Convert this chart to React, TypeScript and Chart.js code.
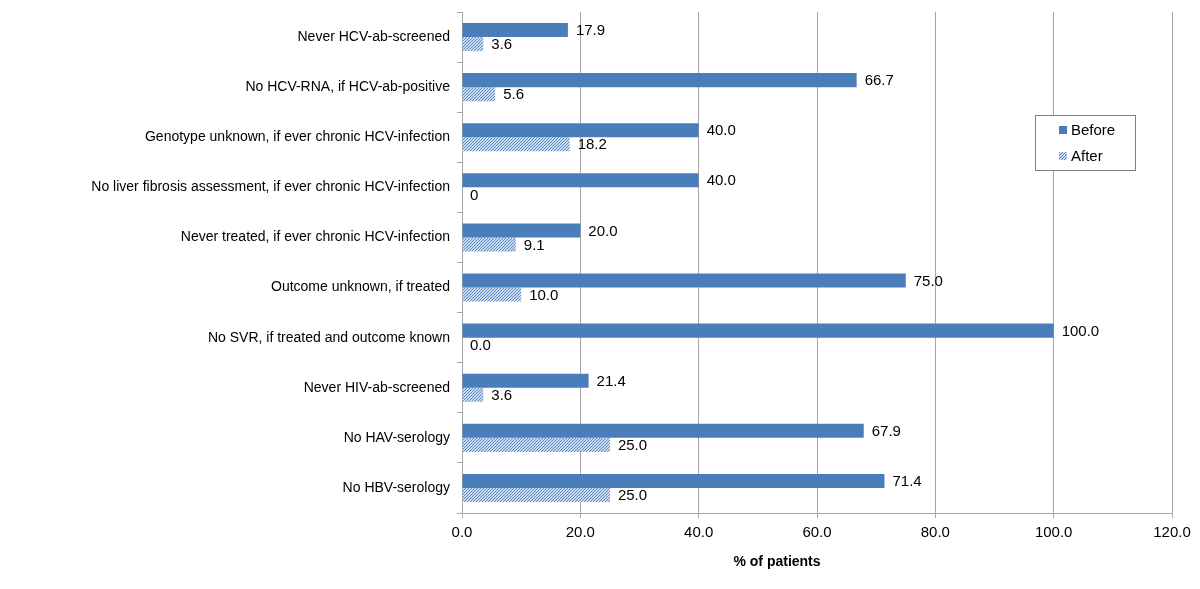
import React, { useEffect, useRef } from "react";
import { Chart, registerables } from "chart.js";

Chart.register(...registerables);

const categories = [
  "Never HCV-ab-screened",
  "No HCV-RNA, if HCV-ab-positive",
  "Genotype unknown, if ever chronic HCV-infection",
  "No liver fibrosis assessment, if ever chronic HCV-infection",
  "Never treated, if ever chronic HCV-infection",
  "Outcome unknown, if treated",
  "No SVR, if treated and outcome known",
  "Never HIV-ab-screened",
  "No HAV-serology",
  "No HBV-serology",
];
const beforeValues = [17.9, 66.7, 40.0, 40.0, 20.0, 75.0, 100.0, 21.4, 67.9, 71.4];
const afterValues = [3.6, 5.6, 18.2, 0, 9.1, 10.0, 0.0, 3.6, 25.0, 25.0];
const beforeLabels = ["17.9", "66.7", "40.0", "40.0", "20.0", "75.0", "100.0", "21.4", "67.9", "71.4"];
const afterLabels = ["3.6", "5.6", "18.2", "0", "9.1", "10.0", "0.0", "3.6", "25.0", "25.0"];
const seriesNames = ["Before", "After"];
const xTicks = [0, 20, 40, 60, 80, 100, 120];
const xTitle = "% of patients";

const BLUE = "#4a7ebb";
const FONT = "'Liberation Sans', Arial, sans-serif";

function makeHatch(): CanvasPattern | string {
  const c = document.createElement("canvas");
  c.width = 3;
  c.height = 3;
  const ctx = c.getContext("2d");
  if (!ctx) return BLUE;
  ctx.fillStyle = "#ffffff";
  ctx.fillRect(0, 0, 3, 3);
  ctx.strokeStyle = "#4f83c4";
  ctx.lineWidth = 1.1;
  ctx.beginPath();
  ctx.moveTo(-1, 4);
  ctx.lineTo(4, -1);
  ctx.moveTo(-1, 1);
  ctx.lineTo(1, -1);
  ctx.moveTo(2, 4);
  ctx.lineTo(4, 2);
  ctx.stroke();
  const p = ctx.createPattern(c, "repeat");
  return p || BLUE;
}

export default function App() {
  const ref = useRef<HTMLCanvasElement | null>(null);
  useEffect(() => {
    document.body.style.margin = "0";
    const canvas = ref.current;
    if (!canvas) return;
    const hatch = makeHatch();
    const labelSets = [beforeLabels, afterLabels];

    const dataLabels = {
      id: "dataLabels",
      afterDatasetsDraw(chart: any) {
        const ctx = chart.ctx;
        ctx.save();
        ctx.font = `15px ${FONT}`;
        ctx.fillStyle = "#000";
        ctx.textBaseline = "middle";
        ctx.textAlign = "left";
        chart.data.datasets.forEach((_ds: any, di: number) => {
          const meta = chart.getDatasetMeta(di);
          meta.data.forEach((bar: any, i: number) => {
            ctx.fillText(labelSets[di][i], bar.x + 8, bar.y + 1);
          });
        });
        ctx.restore();
      },
    };

    const extras = {
      id: "extras",
      afterDraw(chart: any) {
        const ctx = chart.ctx;
        ctx.save();
        // axis title
        ctx.font = `bold 14px ${FONT}`;
        ctx.fillStyle = "#000";
        ctx.textAlign = "center";
        ctx.textBaseline = "middle";
        ctx.fillText(xTitle, 777, 562);
        // legend
        const x = 1035, y = 115, w = 100, h = 55;
        ctx.fillStyle = "#fff";
        ctx.fillRect(x, y, w, h);
        ctx.strokeStyle = "#808080";
        ctx.lineWidth = 1;
        ctx.strokeRect(x + 0.5, y + 0.5, w, h);
        ctx.font = `15px ${FONT}`;
        ctx.textAlign = "left";
        const items = [
          { fill: BLUE as any, label: seriesNames[0], cy: y + 15 },
          { fill: hatch as any, label: seriesNames[1], cy: y + 41 },
        ];
        items.forEach((it) => {
          ctx.fillStyle = it.fill;
          ctx.fillRect(x + 24, it.cy - 4, 8, 8);
          ctx.fillStyle = "#000";
          ctx.fillText(it.label, x + 36, it.cy + 1);
        });
        ctx.restore();
      },
    };

    const chart = new Chart(canvas, {
      type: "bar",
      data: {
        labels: categories,
        datasets: [
          {
            label: seriesNames[0],
            data: beforeValues,
            backgroundColor: BLUE,
            barPercentage: 1,
            categoryPercentage: 0.56,
          },
          {
            label: seriesNames[1],
            data: afterValues,
            backgroundColor: hatch as any,
            barPercentage: 1,
            categoryPercentage: 0.56,
          },
        ],
      },
      options: {
        indexAxis: "y",
        animation: false,
        responsive: false,
        maintainAspectRatio: false,
        layout: { padding: { top: 12, right: 28, left: 0, bottom: 0 } },
        plugins: {
          legend: { display: false },
          tooltip: { enabled: false },
        },
        scales: {
          x: {
            min: 0,
            max: 120,
            afterBuildTicks(scale: any) {
              scale.ticks = xTicks.map((v) => ({ value: v }));
            },
            afterFit(scale: any) {
              scale.height = 76;
              scale.paddingRight = 0;
              scale.paddingLeft = 0;
            },
            ticks: {
              callback: (v: any) => Number(v).toFixed(1),
              font: { family: FONT, size: 15 },
              color: "#000",
              padding: 6,
            },
            grid: {
              color: "#a6a6a6",
              lineWidth: 1,
              drawTicks: true,
              tickLength: 5,
            },
            border: { color: "#a6a6a6" },
          },
          y: {
            afterFit(scale: any) {
              scale.width = 462;
              scale.paddingTop = 0;
              scale.paddingBottom = 0;
            },
            ticks: {
              font: { family: FONT, size: 14 },
              color: "#000",
              padding: 7,
            },
            grid: {
              offset: true,
              drawOnChartArea: false,
              drawTicks: true,
              tickLength: 5,
              color: "#a6a6a6",
            },
            border: { color: "#a6a6a6" },
          },
        },
      },
      plugins: [dataLabels, extras],
    });
    return () => chart.destroy();
  }, []);
  return <canvas ref={ref} width={1200} height={589} style={{ display: "block" }} />;
}
